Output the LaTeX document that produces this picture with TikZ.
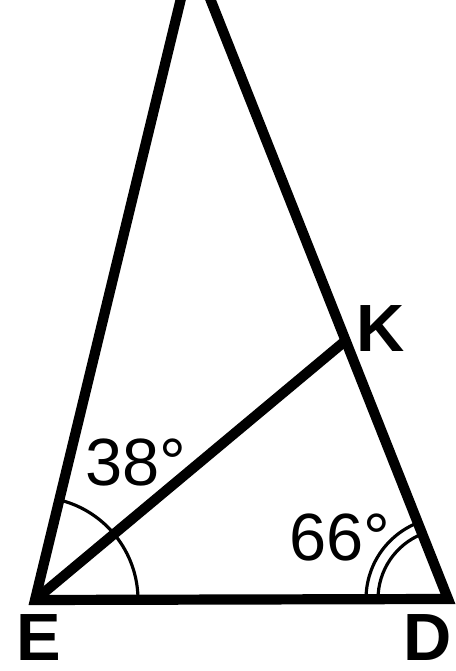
\documentclass[tikz,border=0pt]{standalone}
\usepackage{fontspec}
\setmainfont{Liberation Sans}
\usetikzlibrary{calc}
\begin{document}
\begin{tikzpicture}[x=0.01cm,y=0.01cm,
  edge/.style={line width=2.9pt,line join=miter},
  anglearc/.style={line width=0.9pt},
  lbl/.style={inner sep=0pt,font=\fontsize{19}{19}\selectfont\bfseries},
  ang/.style={inner sep=0pt,font=\fontsize{19}{19}\selectfont}]
\useasboundingbox (0,0) rectangle (456,671);
\clip (0,0) rectangle (456,671);
\coordinate (E) at (35,71);
\coordinate (D) at (448,72);
\coordinate (A) at (192,718);
\coordinate (K) at ($(A)!0.6!(D)$);
% angle arcs
\draw[anglearc] ($(E)+(0:103)$) arc (0:76.4:103);
\draw[anglearc] ($(D)+(180:82)$) arc (180:111.6:82);
\draw[anglearc] ($(D)+(180:70)$) arc (180:111.6:70);
% edges
\draw[edge] (A) -- (E) -- (D) -- cycle;
\draw[edge] (E) -- (K);
% labels
\node[lbl] (lE) at (39,33) {E};
\node[lbl] (lD) at (428,33) {D};
\node[lbl] (lK) at (381,342) {K};
\node[ang] (a38) at (136,208) {38°};
\node[ang] (a66) at (340,133) {66°};
\end{tikzpicture}
\end{document}
